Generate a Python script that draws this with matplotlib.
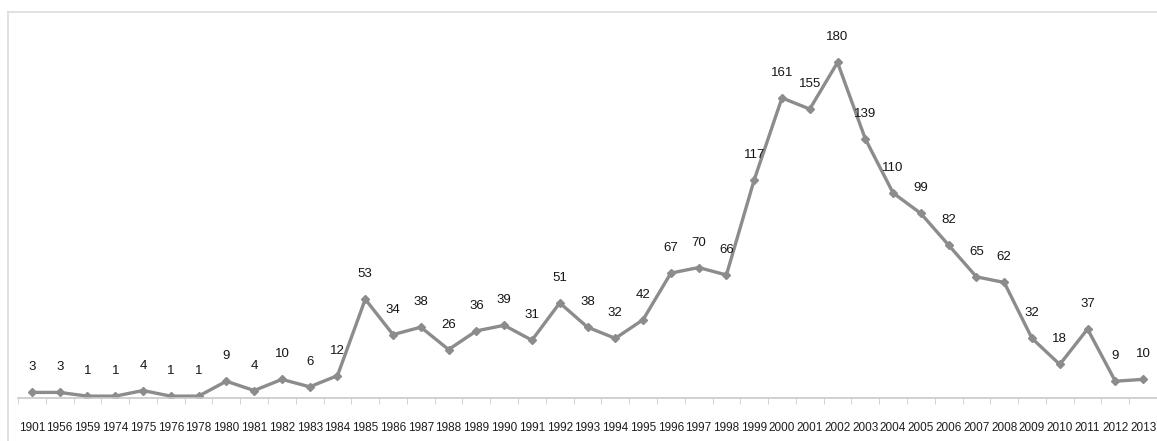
import matplotlib
matplotlib.use("Agg")
import matplotlib.pyplot as plt
from matplotlib.lines import Line2D
import numpy as np

years = ["1901", "1956", "1959", "1974", "1975", "1976", "1978", "1980", "1981", "1982",
         "1983", "1984", "1985", "1986", "1987", "1988", "1989", "1990", "1991", "1992",
         "1993", "1994", "1995", "1996", "1997", "1998", "1999", "2000", "2001", "2002",
         "2003", "2004", "2005", "2006", "2007", "2008", "2009", "2010", "2011", "2012", "2013"]
counts = [3, 3, 1, 1, 4, 1, 1, 9, 4, 10, 6, 12, 53, 34, 38, 26, 36, 39, 31, 51,
          38, 32, 42, 67, 70, 66, 117, 161, 155, 180, 139, 110, 99, 82, 65, 62, 32, 18, 37, 9, 10]

fam = ["Liberation Sans Narrow", "DejaVu Sans Condensed", "Liberation Sans", "DejaVu Sans"]

W, H = 1157, 441
fig = plt.figure(figsize=(W / 100, H / 100), dpi=100)
fig.patch.set_facecolor("white")

zero_px = 398.0
top_px = 20.0
ymax = (zero_px - top_px) / 1.864
ax = fig.add_axes([18 / W, 1 - zero_px / H, (W - 18) / W, (zero_px - top_px) / H])
x = np.arange(len(years))
ax.plot(x, counts, color="#8c8c8c", lw=2.4, marker="D", ms=4, mfc="#8c8c8c", mec="#8c8c8c")
ax.set_xlim(-0.5, len(years) - 0.5)
ax.set_ylim(0, ymax)

for xi, v in zip(x, counts):
    ax.annotate(str(v), (xi, v), xytext=(0, 18), textcoords="offset points",
                ha="center", va="center", fontsize=9.5, color="#151515", family=fam)

ax.set_xticks(x)
ax.set_xticklabels(years, family=fam, fontsize=8.5, color="#1e1e1e")
ax.set_xticks(np.arange(-0.5, len(years)), minor=True)
ax.tick_params(axis="x", which="major", length=0, pad=17)
ax.tick_params(axis="x", which="minor", length=4, color="#cccccc", direction="out")
ax.set_yticks([])
for s in ["top", "right", "left"]:
    ax.spines[s].set_visible(False)
ax.spines["bottom"].set_color("#c8c8c8")
ax.spines["bottom"].set_linewidth(1.2)

# outer chart frame
fig.add_artist(Line2D([8 / W, 8 / W], [0, 1 - 12 / H], color="#dcdcdc", lw=1.2))
fig.add_artist(Line2D([8 / W, 1], [1 - 12 / H, 1 - 12 / H], color="#dcdcdc", lw=1.2))

fig.savefig("out.png", dpi=100)
